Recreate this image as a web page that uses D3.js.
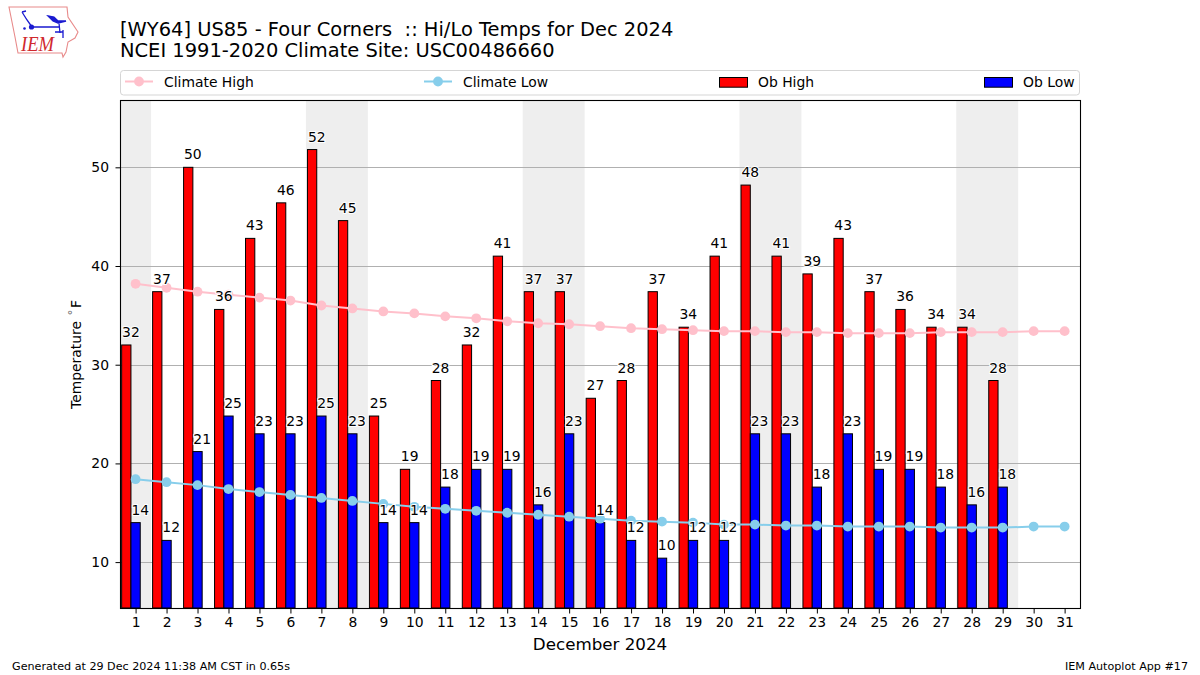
<!DOCTYPE html>
<html><head><meta charset="utf-8">
<script src="https://cdn.jsdelivr.net/npm/d3@7/dist/d3.min.js"></script>
<style>html,body{margin:0;padding:0;background:#fff}svg{display:block}text{font-family:"DejaVu Sans",sans-serif}</style>
</head><body><svg id="c" width="1200" height="675"></svg>
<script>
const days = d3.range(1, 32);
const obHigh = [32,37.4,50,35.6,42.8,46.4,51.8,44.6,24.8,19.4,28.4,32,41,37.4,37.4,26.6,28.4,37.4,33.8,41,48.2,41,39.2,42.8,37.4,35.6,33.8,33.8,28.4];
const obLow = [14,12.2,21.2,24.8,23,23,24.8,23,14,14,17.6,19.4,19.4,15.8,23,14,12.2,10.4,12.2,12.2,23,23,17.6,23,19.4,19.4,17.6,15.8,17.6];
const climateHigh = [38.2,37.8,37.4,37.1,36.8,36.5,36.0,35.7,35.4,35.2,34.9,34.7,34.4,34.2,34.1,33.9,33.7,33.6,33.5,33.4,33.4,33.3,33.3,33.2,33.2,33.2,33.3,33.3,33.3,33.4,33.4];
const climateLow = [18.4,18.1,17.8,17.4,17.1,16.8,16.5,16.2,15.9,15.6,15.4,15.2,15.0,14.8,14.6,14.4,14.2,14.1,14.0,13.8,13.8,13.7,13.7,13.6,13.6,13.6,13.5,13.5,13.5,13.6,13.6];
const weekendSpans = [[0.5,1.5],[6.5,8.5],[13.5,15.5],[20.5,22.5],[27.5,29.5]];
const yTicks = [10,20,30,40,50];
const titleLines = ["[WY64] US85 - Four Corners  :: Hi/Lo Temps for Dec 2024","NCEI 1991-2020 Climate Site: USC00486660"];
const legendItems = [
 {label:"Climate High",kind:"line",color:"pink",x:125},
 {label:"Climate Low",kind:"line",color:"skyblue",x:424},
 {label:"Ob High",kind:"bar",color:"red",x:719},
 {label:"Ob Low",kind:"bar",color:"blue",x:984}];

const L=120.5,R=1080.5,T=100.5,B=608.5;
const svg=d3.select("#c");
const x=d3.scaleLinear().domain([0.5,31.5]).range([L-0.4,R-0.4]);
const y=d3.scaleLinear().domain([5.35,56.8]).range([608,100.2]);
const fmt=d3.format(".0f");
const barW=x(1.3)-x(1);
const barShift=x(1.15)-x(1);

// logo
const logo=svg.append("g").attr("id","logo");
logo.append("path").attr("d","M9,7 L67,7 L68,17 L78,32 L75,38 L68,42 L66,52 L63,57 L62,53 L18,53 L15,37 L12,22 Z")
 .attr("fill","#fff").attr("stroke","#e88a8a").attr("stroke-width",1.1);
logo.append("path").attr("d","M32,27 L59,27 M48,16 L54,17 L58,21 L66,21 L58,23 L53,21 Z M22,12 L27,20 L32,27 M22,12 L26,11 M59,23 L60,33 M55,32 L63,32 M63,30 L63,38").attr("fill","#1a1ad0").attr("stroke","#1a1ad0").attr("stroke-width",1.3);
logo.append("circle").attr("cx",31.5).attr("cy",27).attr("r",2.6).attr("fill","#1a1ad0");
logo.append("circle").attr("cx",24.5).attr("cy",28.5).attr("r",1.3).attr("fill","#1a1ad0");
logo.append("text").attr("x",21).attr("y",51).attr("font-style","italic").style("font-family","'Liberation Serif',serif").attr("font-size",21).attr("textLength",33).attr("lengthAdjust","spacingAndGlyphs").attr("fill","#d0282e").text("IEM");

// titles
titleLines.forEach((t,i)=>svg.append("text").attr("x",120).attr("y",35.5+i*21.5).attr("font-size",19.45).attr("fill","#000").attr("xml:space","preserve").style("white-space","pre").text(t));

// legend
svg.append("rect").attr("x",120.5).attr("y",70.5).attr("width",959).attr("height",24.5).attr("rx",3).attr("fill","#fff").attr("stroke","#d5d5d5");
legendItems.forEach(d=>{
 const g=svg.append("g");
 if(d.kind==="line"){
  g.append("line").attr("x1",d.x).attr("x2",d.x+28).attr("y1",81.5).attr("y2",81.5).attr("stroke",d.color).attr("stroke-width",2);
  g.append("circle").attr("cx",d.x+14).attr("cy",81.5).attr("r",4.9).attr("fill",d.color);
  g.append("text").attr("x",d.x+39).attr("y",86.5).attr("font-size",13.9).text(d.label);
 } else {
  g.append("rect").attr("x",d.x+.5).attr("y",77.5).attr("width",28).attr("height",9.7).attr("fill",d.color).attr("stroke","#000").attr("stroke-width",1);
  g.append("text").attr("x",d.x+39).attr("y",86.5).attr("font-size",13.9).text(d.label);
 }
});

// weekend shading
svg.append("g").selectAll("rect").data(weekendSpans).join("rect")
 .attr("x",d=>x(d[0])).attr("width",d=>x(d[1])-x(d[0])).attr("y",T).attr("height",B-T).attr("fill","#eeeeee");

// grid
svg.append("g").selectAll("line").data(yTicks).join("line")
 .attr("x1",L).attr("x2",R).attr("y1",d=>Math.round(y(d))+.5).attr("y2",d=>Math.round(y(d))+.5).attr("stroke","#b0b0b0").attr("stroke-width",1.1);

// bars
const barBase=y.domain()[0];
svg.append("g").selectAll("rect").data(obHigh).join("rect")
 .attr("x",(d,i)=>x(days[i])-barShift-barW).attr("width",barW).attr("y",d=>y(d)).attr("height",d=>y(barBase)-y(d))
 .attr("fill","red").attr("stroke","#000").attr("stroke-width",1);
svg.append("g").selectAll("rect").data(obLow).join("rect")
 .attr("x",(d,i)=>x(days[i])-barShift).attr("width",barW).attr("y",d=>y(d)).attr("height",d=>y(barBase)-y(d))
 .attr("fill","blue").attr("stroke","#000").attr("stroke-width",1);

// climate lines
[[climateHigh,"pink"],[climateLow,"skyblue"]].forEach(([vals,c])=>{
 const g=svg.append("g");
 g.append("path").attr("d",d3.line().x((d,i)=>x(days[i])).y(d=>y(d))(vals)).attr("fill","none").attr("stroke",c).attr("stroke-width",2);
 g.selectAll("circle").data(vals).join("circle").attr("cx",(d,i)=>x(days[i])).attr("cy",d=>y(d)).attr("r",4.9).attr("fill",c);
});

// labels
function labels(vals,dx){
 svg.append("g").selectAll("text").data(vals).join("text")
  .attr("x",(d,i)=>x(days[i])+dx).attr("y",d=>y(d)-8).attr("text-anchor","middle").attr("font-size",13.9)
  .attr("fill","#000").attr("stroke","#fff").attr("stroke-width",2).attr("paint-order","stroke").text(d=>fmt(d));
}
labels(obHigh,-barShift);
labels(obLow,barShift);

// frame
svg.append("rect").attr("x",L).attr("y",T).attr("width",R-L).attr("height",B-T).attr("fill","none").attr("stroke","#000").attr("stroke-width",1.1);

// axes
const ax=svg.append("g").attr("transform",`translate(0,${B})`).call(d3.axisBottom(x).tickValues(days).tickFormat(d3.format("d")).tickSize(5).tickPadding(3.5));
const ay=svg.append("g").attr("transform",`translate(${L},0)`).call(d3.axisLeft(y).tickValues(yTicks).tickSize(5).tickPadding(6.5));
[ax,ay].forEach(a=>{a.select(".domain").remove();a.selectAll("text").attr("font-size",13.9).attr("fill","#000").style("font-family","'DejaVu Sans',sans-serif");a.selectAll("line").attr("stroke","#000");});

svg.append("text").attr("x",600).attr("y",649.5).attr("text-anchor","middle").attr("font-size",16.7).text("December 2024");
const yl=svg.append("text").attr("transform","translate(81,354.5) rotate(-90)").attr("text-anchor","middle").attr("font-size",13.9);
yl.append("tspan").text("Temperature");
yl.append("tspan").attr("dx",5).attr("fill","#777").text("\u02da");
yl.append("tspan").attr("dx",1).text("F");
svg.append("text").attr("x",12).attr("y",670).attr("font-size",11.15).text("Generated at 29 Dec 2024 11:38 AM CST in 0.65s");
svg.append("text").attr("x",1188).attr("y",670).attr("text-anchor","end").attr("font-size",11.15).text("IEM Autoplot App #17");
</script></body></html>
